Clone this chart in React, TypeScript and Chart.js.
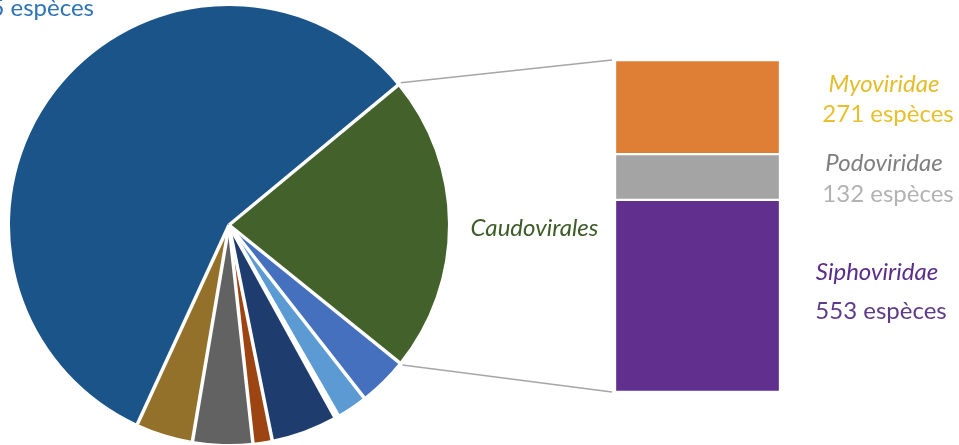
import React, { useEffect, useRef } from "react";
import { Chart, registerables } from "chart.js";

Chart.register(...registerables);

// ---------- data ----------
const pieLabels = [
  "Caudovirales",
  "Groupe B",
  "Groupe C",
  "Groupe D",
  "Groupe E",
  "Groupe F",
  "Groupe G",
  "Groupe H",
  "Non classés",
];
const pieValues = [956, 159, 100, 12, 213, 62, 193, 184, 2505];
const pieColors = [
  "#43612b",
  "#4570bd",
  "#5b9ad3",
  "#ffffff",
  "#1f3c6f",
  "#9c4512",
  "#626262",
  "#94712a",
  "#1a5489",
];

const barFamilies = ["Siphoviridae", "Podoviridae", "Myoviridae"];
const barValues = [553, 132, 271];
const barColors = ["#612f8d", "#a4a4a4", "#df7f36"];
const familyNameColors = ["#5a2d8a", "#7f7f7f", "#e3bd2c"];
const familyCountColors = ["#5e3b88", "#b2b2b2", "#e6c02e"];

const UNIT = "espèces";

// ---------- layout / style (not data) ----------
const W = 959;
const H = 445;
const FONT = "Lato, 'Open Sans', sans-serif";
// per family: [dx name, dy name, dx count, dy count] relative to bar right edge / segment centre
const LABEL_LAYOUT = [
  [97, -16, 101, 23],
  [104, -6, 108, 25],
  [104, -15, 108, 15],
];

export default function App() {
  const pieRef = useRef<HTMLCanvasElement | null>(null);
  const barRef = useRef<HTMLCanvasElement | null>(null);

  useEffect(() => {
    if (!pieRef.current || !barRef.current) return;
    let alive = true;

    const total = barValues.reduce((a, b) => a + b, 0);

    const barLabelPlugin = {
      id: "barLabels",
      afterDraw(chart: any) {
        const ctx = chart.ctx;
        ctx.save();
        ctx.textAlign = "center";
        ctx.textBaseline = "alphabetic";
        chart.data.datasets.forEach((ds: any, i: number) => {
          const el = chart.getDatasetMeta(i).data[0] as any;
          const right = el.x + el.width / 2;
          const cy = (el.y + el.base) / 2;
          const [dxn, dyn, dxc, dyc] = LABEL_LAYOUT[i];
          ctx.font = `italic 24px ${FONT}`;
          ctx.fillStyle = familyNameColors[i];
          ctx.fillText(barFamilies[i], right + dxn, cy + dyn);
          ctx.font = `24px ${FONT}`;
          ctx.fillStyle = familyCountColors[i];
          ctx.fillText(`${barValues[i]} ${UNIT}`, right + dxc, cy + dyc);
        });
        ctx.restore();
      },
    };

    const bar = new Chart(barRef.current, {
      type: "bar",
      data: {
        labels: ["Caudovirales"],
        datasets: barFamilies.map((f, i) => ({
          label: f,
          data: [barValues[i]],
          backgroundColor: barColors[i],
          borderColor: "#ffffff",
          borderWidth: 1.5,
          borderSkipped: false,
          categoryPercentage: 1,
          barPercentage: 1,
        })),
      },
      options: {
        responsive: false,
        animation: false,
        events: [],
        layout: { padding: { left: 615, right: 179, top: 60, bottom: 53 } },
        plugins: { legend: { display: false }, tooltip: { enabled: false } },
        scales: {
          x: { stacked: true, display: false },
          y: { stacked: true, display: false, min: 0, max: total },
        },
      },
      plugins: [barLabelPlugin],
    });

    const piePlugin = {
      id: "pieExtras",
      afterDatasetsDraw(chart: any) {
        // white separators between slices, along each arc's start edge
        const ctx = chart.ctx;
        const arcs = chart.getDatasetMeta(0).data as any[];
        ctx.save();
        ctx.strokeStyle = "#ffffff";
        ctx.lineWidth = 3.5;
        ctx.lineCap = "butt";
        arcs.forEach((a: any) => {
          const { x, y, startAngle, outerRadius } = a.getProps(
            ["x", "y", "startAngle", "outerRadius"],
            true
          );
          ctx.beginPath();
          ctx.moveTo(x, y);
          ctx.lineTo(
            x + (outerRadius + 2) * Math.cos(startAngle),
            y + (outerRadius + 2) * Math.sin(startAngle)
          );
          ctx.stroke();
        });
        ctx.restore();
      },
      afterDraw(chart: any) {
        const ctx = chart.ctx;
        const arc = chart.getDatasetMeta(0).data[0] as any;
        const { x, y, startAngle, endAngle, outerRadius } = arc.getProps(
          ["x", "y", "startAngle", "endAngle", "outerRadius"],
          true
        );
        const r = outerRadius + 4;
        const topEl = bar.getDatasetMeta(barFamilies.length - 1).data[0] as any;
        const botEl = bar.getDatasetMeta(0).data[0] as any;
        const barLeft = topEl.x - topEl.width / 2 - 3;
        ctx.save();
        ctx.strokeStyle = "#a6a6a6";
        ctx.lineWidth = 1.5;
        ctx.beginPath();
        ctx.moveTo(x + r * Math.cos(startAngle), y + r * Math.sin(startAngle));
        ctx.lineTo(barLeft, topEl.y);
        ctx.moveTo(x + r * Math.cos(endAngle), y + r * Math.sin(endAngle));
        ctx.lineTo(barLeft, botEl.base);
        ctx.stroke();

        // Caudovirales label between pie and bar
        ctx.font = `italic 24px ${FONT}`;
        ctx.fillStyle = "#3d5c28";
        ctx.textAlign = "center";
        ctx.textBaseline = "alphabetic";
        ctx.fillText(pieLabels[0], (x + outerRadius + barLeft + 3) / 2 + 3, y + 11);

        // label of the large slice (cut by the left edge)
        const last = pieValues.length - 1;
        ctx.font = `24px ${FONT}`;
        ctx.fillStyle = "#2e74b5";
        ctx.textAlign = "right";
        ctx.fillText(`${pieValues[last]} ${UNIT}`, 94, 16);
        ctx.restore();
      },
    };

    const pie = new Chart(pieRef.current, {
      type: "pie",
      data: {
        labels: pieLabels,
        datasets: [
          {
            data: pieValues,
            backgroundColor: pieColors,
            borderColor: "#ffffff",
            borderWidth: 0,
          },
        ],
      },
      options: {
        responsive: false,
        animation: false,
        events: [],
        rotation: 50.4,
        layout: { padding: { left: 10, top: 6, right: W - 448, bottom: 1 } },
        plugins: { legend: { display: false }, tooltip: { enabled: false } },
      },
      plugins: [piePlugin],
    });

    const fonts = (document as any).fonts;
    if (fonts && fonts.load) {
      Promise.all([fonts.load(`24px Lato`), fonts.load(`italic 24px Lato`)])
        .then(() => {
          if (!alive) return;
          bar.update();
          pie.update();
        })
        .catch(() => {});
    }

    return () => {
      alive = false;
      pie.destroy();
      bar.destroy();
    };
  }, []);

  const canvasStyle: React.CSSProperties = {
    position: "absolute",
    left: 0,
    top: 0,
    width: W,
    height: H,
  };

  return (
    <div
      style={{
        position: "absolute",
        left: 0,
        top: 0,
        width: W,
        height: H,
        overflow: "hidden",
        background: "#ffffff",
      }}
    >
      <canvas ref={pieRef} width={W} height={H} style={canvasStyle} />
      <canvas ref={barRef} width={W} height={H} style={canvasStyle} />
    </div>
  );
}
